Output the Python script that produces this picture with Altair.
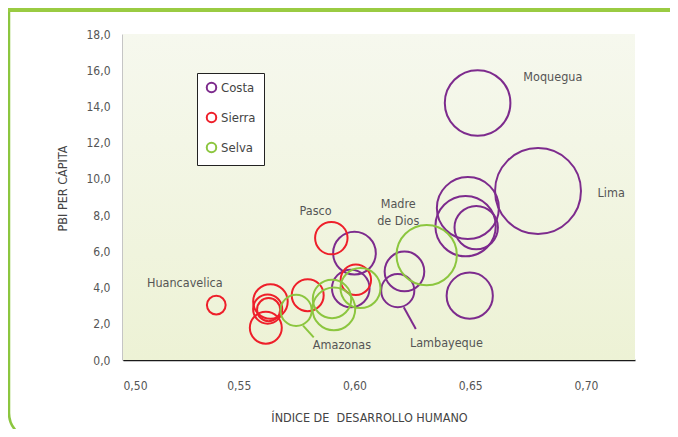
import altair as alt
import pandas as pd

# ---- data ----
regiones = ["Moquegua", "Lima", "Tacna", "Arequipa", "Ica", "Tumbes", "La Libertad",
            "Lambayeque", "Áncash", "Piura",
            "Pasco", "Junín", "Cusco", "Apurímac", "Ayacucho", "Puno", "Cajamarca", "Huancavelica",
            "Madre de Dios", "Ucayali", "Loreto", "San Martín", "Amazonas"]
tipo = ["Costa"] * 10 + ["Sierra"] * 8 + ["Selva"] * 5
idh = [0.6532, 0.6793, 0.6490, 0.6480, 0.6526, 0.6498, 0.6216, 0.6187, 0.6000, 0.5984,
       0.5900, 0.6006, 0.5798, 0.5637, 0.5625, 0.5629, 0.5617, 0.5403,
       0.6312, 0.6026, 0.5903, 0.5911, 0.5748]
pbi = [14.19, 9.33, 8.39, 7.39, 7.31, 3.55, 4.89, 3.83, 5.90, 3.95,
       6.73, 4.43, 3.58, 3.23, 2.81, 2.78, 1.78, 3.03,
       5.79, 3.97, 3.37, 2.82, 2.74]
tamano = [13.7, 23.5, 12.25, 11.6, 6.0, 6.8, 5.0, 3.5, 5.8, 4.5,
          3.35, 2.95, 3.25, 3.8, 2.7, 1.7, 3.25, 1.12,
          11.6, 5.1, 4.7, 5.8, 3.1]

categorias = ["Costa", "Sierra", "Selva"]
colores = ["#7d2b8d", "#ee1f2a", "#8cc63f"]

etiquetas = ["Moquegua", "Lima", "Madre\nde Dios", "Pasco", "Huancavelica", "Amazonas", "Lambayeque"]
etq_x = [0.6857, 0.7109, 0.6189, 0.5832, 0.5267, 0.5946, 0.6397]
etq_y = [15.61, 9.20, 8.63, 8.21, 4.23, 0.83, 0.92]

guia_tipo = ["Costa", "Selva"]
guia_x = [0.6213, 0.5778]
guia_x2 = [0.6265, 0.5824]
guia_y = [2.91, 1.90]
guia_y2 = [1.71, 1.25]

x_ticks = [0.50, 0.55, 0.60, 0.65, 0.70]
y_ticks = [0, 2, 4, 6, 8, 10, 12, 14, 16, 18]

FONT = "DejaVu Sans Condensed, Liberation Sans Narrow, Roboto, sans-serif"
W, H = 512, 326

df = pd.DataFrame({"region": regiones, "tipo": tipo, "idh": idh, "pbi": pbi, "tamano": tamano})
df_lab = pd.DataFrame({"texto": etiquetas, "x": etq_x, "y": etq_y})
df_guia = pd.DataFrame({"tipo": guia_tipo, "x": guia_x, "x2": guia_x2, "y": guia_y, "y2": guia_y2})

xscale = alt.Scale(domain=[0.5, 0.7212], nice=False, zero=False)
yscale = alt.Scale(domain=[0, 18], nice=False, zero=True)

xaxis = alt.Axis(title="ÍNDICE DE\u00a0 DESARROLLO HUMANO", values=x_ticks, format=".2f",
                 labelExpr="replace(datum.label, '.', ',')",
                 ticks=False, tickSize=0, labelPadding=20, grid=False, labelOverlap=False,
                 domainColor="#1a1a1a", domainWidth=1.5,
                 titleX=246, titleY=57, titleAnchor="middle", titleBaseline="middle")
yaxis = alt.Axis(title="PBI PER CÁPITA", values=y_ticks, tickCount=10, format=".1f",
                 labelExpr="replace(datum.label, '.', ',')",
                 ticks=False, tickSize=0, labelPadding=13, grid=False, labelOverlap=False,
                 labelBound=False, labelFlush=False,
                 domainColor="#1a1a1a", domainWidth=1.5,
                 titleX=-61, titleY=154, titleAngle=270, titleAlign="center",
                 titleBaseline="middle")

one = alt.Data(values=[{"a": 1}])

fondo = alt.Chart(one).mark_rect(
    color=alt.LinearGradient(
        gradient="linear",
        stops=[alt.GradientStop(color="#f6f8ee", offset=0),
               alt.GradientStop(color="#edf2d5", offset=1)],
        x1=0, x2=0, y1=0, y2=1)
).encode(x=alt.value(0), x2=alt.value(W), y=alt.value(0), y2=alt.value(H))

marco = alt.Chart(one).mark_rect(
    filled=False, stroke="#8cc63f", strokeWidth=2.5, cornerRadius=26
).encode(x=alt.value(-114), x2=alt.value(600), y=alt.value(-60), y2=alt.value(405))

banda = alt.Chart(one).mark_rect(color="#9acb42").encode(
    x=alt.value(-120), x2=alt.value(600), y=alt.value(-30), y2=alt.value(-22))

burbujas = alt.Chart(df).mark_point(filled=False, strokeWidth=2, opacity=1, shape="circle").encode(
    x=alt.X("idh:Q", scale=xscale, axis=xaxis),
    y=alt.Y("pbi:Q", scale=yscale, axis=yaxis),
    color=alt.Color("tipo:N", scale=alt.Scale(domain=categorias, range=colores),
                    legend=alt.Legend(title=None, orient="none", legendX=74, legendY=39,
                                      direction="vertical", symbolType="circle", symbolSize=90,
                                      symbolStrokeWidth=2, labelFontSize=13, labelColor="#444",
                                      labelFont=FONT, rowPadding=11, padding=8,
                                      strokeColor="#222", fillColor="white",
                                      labelOffset=3)),
    size=alt.Size("tamano:Q", scale=alt.Scale(type="linear", domain=[0, 25], range=[0, 7854], zero=True),
                  legend=None),
)

textos = alt.Chart(df_lab).mark_text(
    font=FONT, fontSize=12.5, color="#555", lineBreak="\n", lineHeight=17, baseline="middle"
).encode(x=alt.X("x:Q", scale=xscale, axis=xaxis), y=alt.Y("y:Q", scale=yscale, axis=yaxis),
         text="texto:N")

guia_costa = alt.Chart(df_guia).transform_filter("datum.tipo == 'Costa'").mark_rule(
    strokeWidth=2, color=colores[0]).encode(
    x=alt.X("x:Q", scale=xscale, axis=xaxis), x2="x2:Q",
    y=alt.Y("y:Q", scale=yscale, axis=yaxis), y2="y2:Q")

guia_selva = alt.Chart(df_guia).transform_filter("datum.tipo == 'Selva'").mark_rule(
    strokeWidth=2, color=colores[2]).encode(
    x=alt.X("x:Q", scale=xscale, axis=xaxis), x2="x2:Q",
    y=alt.Y("y:Q", scale=yscale, axis=yaxis), y2="y2:Q")

chart = alt.layer(fondo, marco, banda, guia_costa, guia_selva, burbujas, textos).properties(
    width=W, height=H,
    autosize=alt.AutoSizeParams(type="none"),
    padding={"left": 115, "top": 26, "right": 35, "bottom": 69},
    background="white",
).configure_view(stroke=None).configure_axis(
    labelFont=FONT, labelFontSize=12, labelColor="#555",
    titleFont=FONT, titleFontSize=12.5, titleColor="#444", titleFontWeight="normal",
)

chart.save("out.html", embed_options={"renderer": "svg", "actions": False})
